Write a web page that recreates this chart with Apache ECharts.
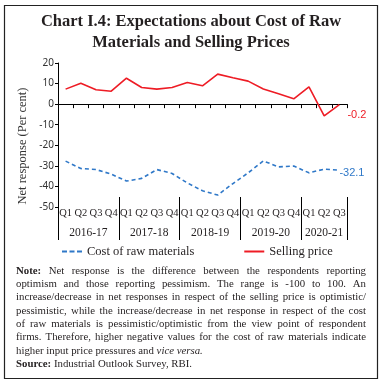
<!DOCTYPE html>
<html><head><meta charset="utf-8">
<script src="https://cdn.jsdelivr.net/npm/echarts@6/dist/echarts.min.js"></script>
<style>html,body{margin:0;padding:0;background:#fff}#c{width:383px;height:386px}</style>
</head><body><div id="c"></div>
<script>
// ---- data ----
const quarters = ['Q1','Q2','Q3','Q4','Q1','Q2','Q3','Q4','Q1','Q2','Q3','Q4','Q1','Q2','Q3','Q4','Q1','Q2','Q3'];
const years = ['2016-17','2017-18','2018-19','2019-20','2020-21'];
const quartersPerYear = [4,4,4,4,3];
const costOfRawMaterials = [-27.7,-31.3,-31.8,-34.0,-37.4,-36.1,-31.8,-33.7,-38.3,-42.1,-44.2,-38.6,-33.4,-27.6,-30.5,-30.1,-33.4,-31.6,-32.1];
const sellingPrice = [7.3,10.2,7.0,6.3,12.6,8.1,7.3,8.1,10.5,8.9,14.6,12.8,11.2,7.4,5.0,2.6,8.4,-5.7,-0.2];
const yMin = -50, yMax = 20, yStep = 10;
const seriesNames = ['Cost of raw materials','Selling price'];
const titleText = 'Chart I.4: Expectations about Cost of Raw\nMaterials and Selling Prices';
const yName = 'Net response (Per cent)';
const noteLines = [
  '*Note:* Net response is the difference between the respondents reporting',
  'optimism and those reporting pessimism. The range is -100 to 100. An',
  'increase/decrease in net responses in respect of the selling price is optimistic/',
  'pessimistic, while the increase/decrease in net response in respect of the cost',
  'of raw materials is pessimistic/optimistic from the view point of respondent',
  'firms. Therefore, higher negative values for the cost of raw materials indicate',
  'higher input price pressures and _vice_ _versa._',
  '*Source:* Industrial Outlook Survey, RBI.'
];
const justified = [true,true,true,true,true,true,false,false];

// ---- derived ----
const yearBounds = [0];
quartersPerYear.forEach(q => yearBounds.push(yearBounds[yearBounds.length-1] + q));
const yearCenters = years.map((y,i) => (yearBounds[i] + yearBounds[i+1]) / 2);

const SERIF = '"Liberation Serif", "DejaVu Serif", serif';
const RED = '#ee1c25', BLUE = '#2f78c8', INK = '#231f20';

// ---- justified note as word graphics ----
const cv = document.createElement('canvas').getContext('2d');
const noteSize = 10.8, noteLeft = 16, noteWidth = 350, noteTop = 271, noteLH = 13.3;
const noteEls = [];
noteLines.forEach((line, li) => {
  const words = line.split(' ').map(w => {
    let bold = false, italic = false, t = w;
    if (/^\*.*\*$/.test(t)) { bold = true; t = t.slice(1,-1); }
    if (/^_.*_$/.test(t)) { italic = true; t = t.slice(1,-1); }
    const font = (italic?'italic ':'') + (bold?'bold ':'') + noteSize + 'px ' + SERIF;
    cv.font = font;
    return {t, font, w: cv.measureText(t).width};
  });
  cv.font = noteSize + 'px ' + SERIF;
  const space = cv.measureText(' ').width;
  const sum = words.reduce((a,b)=>a+b.w,0);
  let sx = 1, gap = space;
  if (justified[li]) {
    gap = (noteWidth - sum) / (words.length - 1);
    const minGap = space * 0.7;
    if (gap < minGap) {
      sx = (noteWidth - minGap * (words.length - 1)) / sum;
      gap = minGap;
    }
  }
  let x = noteLeft;
  const y = noteTop + li * noteLH;
  words.forEach(w => {
    noteEls.push({type:'text', x, y, scaleX:sx, silent:true,
      style:{text:w.t, font:w.font, fill:INK, textVerticalAlign:'middle'}});
    x += w.w * sx + gap;
  });
});

const chart = echarts.init(document.getElementById('c'), null, {renderer:'canvas'});
chart.setOption({
  animation:false,
  backgroundColor:'#fff',
  grid:{left:58, right:36, top:63, bottom:179, containLabel:false},
  legend:{top:245, left:62, padding:0, itemWidth:20, itemHeight:2, itemGap:50,
    data:[
      {name:seriesNames[0], icon:'path://M0,0h5v2h-5zM7.5,0h5v2h-5zM15,0h5v2h-5z'},
      {name:seriesNames[1], icon:'path://M0,0h20v2h-20z'}
    ],
    textStyle:{fontFamily:SERIF, fontSize:12.5, color:INK}},
  xAxis:[
    {type:'category', data:quarters, boundaryGap:true,
     axisLine:{show:true, onZero:true, lineStyle:{color:'#000', width:1}},
     axisTick:{show:true, interval:0, length:4, lineStyle:{color:'#000'}},
     axisLabel:{show:false}, splitLine:{show:false}},
    {type:'category', data:quarters, boundaryGap:true, position:'bottom',
     axisLine:{show:false, onZero:false}, axisTick:{show:false},
     axisLabel:{show:true, interval:0, margin:1, fontFamily:SERIF, fontSize:10.5, color:INK},
     splitLine:{show:false}},
    {type:'value', min:0, max:yearBounds[yearBounds.length-1], position:'bottom', offset:-10,
     axisLine:{show:false, onZero:false},
     axisTick:{show:true, customValues:yearBounds, length:43, lineStyle:{color:'#000', width:1}},
     axisLabel:{show:true, customValues:yearCenters, margin:30,
       formatter:v => years[yearCenters.indexOf(v)] || '',
       fontFamily:SERIF, fontSize:11.5, color:INK},
     splitLine:{show:false}}
  ],
  yAxis:{type:'value', min:yMin, max:yMax, interval:yStep,
    axisLine:{show:true, lineStyle:{color:'#000'}},
    axisTick:{show:true, length:3, lineStyle:{color:'#000'}},
    axisLabel:{margin:4, fontFamily:'"Noto Sans", "DejaVu Sans", sans-serif', fontSize:10, color:'#333'},
    splitLine:{show:false}},
  series:[
    {name:seriesNames[0], type:'line', data:costOfRawMaterials, xAxisIndex:0,
     symbol:'none', showSymbol:false,
     lineStyle:{color:BLUE, width:1.6, type:[4,3]}, itemStyle:{color:BLUE},
     endLabel:{show:true, formatter:p => String(p.value), offset:[-8,3], color:BLUE,
       fontFamily:'"Liberation Sans", sans-serif', fontSize:11}},
    {name:seriesNames[1], type:'line', data:sellingPrice, xAxisIndex:0,
     symbol:'none', showSymbol:false,
     lineStyle:{color:RED, width:1.6}, itemStyle:{color:RED},
     endLabel:{show:true, formatter:p => String(p.value), offset:[0,10], color:RED,
       fontFamily:'"Liberation Sans", sans-serif', fontSize:11}}
  ],
  graphic:[
    {type:'rect', silent:true, shape:{x:4.5, y:5.5, width:373, height:373},
     style:{fill:'none', stroke:'#222', lineWidth:1.2}},
    {type:'text', silent:true, x:191, y:11.5,
     style:{text:titleText, font:'bold 16.5px ' + SERIF, fill:INK, textAlign:'center', textVerticalAlign:'top', lineHeight:21}},
    {type:'text', silent:true, x:23, y:146, rotation:Math.PI/2,
     style:{text:yName, font:'12.5px ' + SERIF, fill:'#333', textAlign:'center', textVerticalAlign:'middle'}}
  ].concat(noteEls)
});
</script></body></html>
